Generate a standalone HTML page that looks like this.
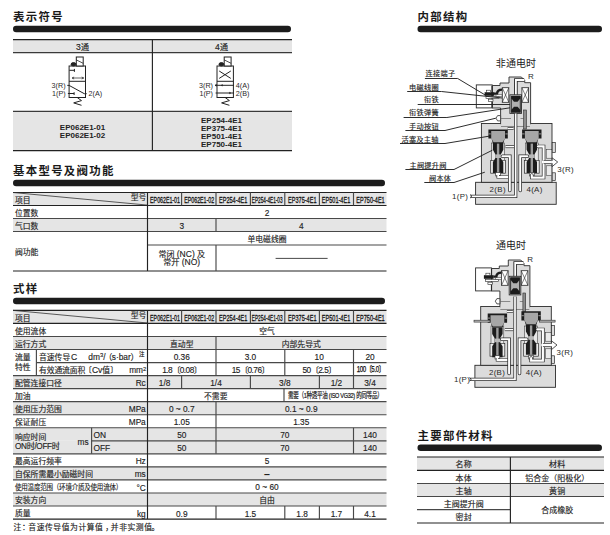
<!DOCTYPE html>
<html lang="zh-CN">
<head>
<meta charset="utf-8">
<title>EP系列 电磁阀 式样</title>
<style>
html,body{margin:0;padding:0;background:#fff;}
body{width:610px;height:535px;overflow:hidden;position:relative;font-family:"Liberation Sans","Noto Sans CJK SC",sans-serif;}
#page{position:absolute;left:0;top:0;width:610px;height:535px;overflow:hidden;background:#fff;}
#page svg{position:absolute;left:0;top:0;}
.t{position:absolute;white-space:nowrap;overflow:visible;font-family:"Liberation Sans","Noto Sans CJK SC",sans-serif;-webkit-text-stroke:0.14px #222;}
.b,.lt{-webkit-text-stroke:0;}
.t sup{font-size:70%;vertical-align:baseline;position:relative;top:-0.4em;line-height:0;}
.c{display:inline-block;white-space:nowrap;}
</style>
</head>
<body>
<div id="page">
<svg width="610" height="535" viewBox="0 0 610 535">
<rect x="13" y="25.8" width="278" height="6.4" rx="3.2" ry="3.2" fill="#1c1c1c"/>
<rect x="13" y="39" width="279" height="14" fill="#e5e5e5" />
<rect x="13" y="111.5" width="279" height="39" fill="#e5e5e5" />
<line x1="13" y1="39.7" x2="292" y2="39.7" stroke="#222" stroke-width="1.3"/>
<line x1="13" y1="52.7" x2="292" y2="52.7" stroke="#3a3a3a" stroke-width="1.3"/>
<line x1="13" y1="111.3" x2="292" y2="111.3" stroke="#3a3a3a" stroke-width="1.2"/>
<line x1="13" y1="150.7" x2="292" y2="150.7" stroke="#222" stroke-width="1.2"/>
<line x1="152.4" y1="39" x2="152.4" y2="151" stroke="#222" stroke-width="1.15"/>
<g fill="none" stroke="#222" stroke-width="1"><rect x="69.1" y="66" width="16.4" height="31.5"/><line x1="69.1" y1="81.3" x2="85.5" y2="81.3"/><rect x="76.3" y="57" width="6.9" height="9" fill="#fff"/><line x1="76.3" y1="59.9" x2="83.19999999999999" y2="63.3" stroke-width="0.8"/><ellipse cx="73.5" cy="64.3" rx="2.4" ry="1.7" fill="#222"/><path d="M69.3 70.3 h5.1 m0 -1.4 v3"/><path d="M72.1 78 h11.6 m-2 -1 l2 1 l-2 1 m-7.6 -2 l-2 1 l2 1" stroke-width="0.7"/><path d="M67.3 85.4 h1.8 L84.3 93.7 h2.4"/><path d="M67.89999999999999 93.5 h6.2 m0 -1.3 v2.8"/><path d="M77.19999999999999 97.5 L81.49999999999999 100.6 L73.69999999999999 102.9 L81.49999999999999 105.3"/></g>
<g fill="none" stroke="#222" stroke-width="1"><rect x="217" y="66" width="16.4" height="31.5"/><line x1="217" y1="81.3" x2="233.4" y2="81.3"/><rect x="224.2" y="57" width="6.9" height="9" fill="#fff"/><line x1="224.2" y1="59.9" x2="231.1" y2="63.3" stroke-width="0.8"/><ellipse cx="221.4" cy="64.3" rx="2.4" ry="1.7" fill="#222"/><path d="M219.2 71 L230.8 78.4 M230.8 71 L219.2 78.4"/><path d="M215 85.3 h19.0 M215.6 93 h18.4"/><path d="M215 85.3 l1.5 -1 v2 z M221 85.3 l1.5 -0.8 v1.6 z M231 93 l-1.6 -0.8 v1.6 z" fill="#222" stroke-width="0.4"/><path d="M225.1 97.5 L229.4 100.6 L221.6 102.9 L229.4 105.3"/></g>
<rect x="13" y="179.8" width="372" height="6.4" rx="3.2" ry="3.2" fill="#1c1c1c"/>
<rect x="13" y="192.5" width="373.5" height="13" fill="#e5e5e5" />
<line x1="13" y1="192.5" x2="386.5" y2="192.5" stroke="#222" stroke-width="1.15"/>
<line x1="13" y1="205.5" x2="386.5" y2="205.5" stroke="#222" stroke-width="1.15"/>
<line x1="13" y1="192.5" x2="147.5" y2="205.1" stroke="#333" stroke-width="0.8"/>
<line x1="181.6" y1="192.5" x2="181.6" y2="205.5" stroke="#484848" stroke-width="1.15"/>
<line x1="216" y1="192.5" x2="216" y2="205.5" stroke="#484848" stroke-width="1.15"/>
<line x1="250.4" y1="192.5" x2="250.4" y2="205.5" stroke="#484848" stroke-width="1.15"/>
<line x1="284.8" y1="192.5" x2="284.8" y2="205.5" stroke="#484848" stroke-width="1.15"/>
<line x1="319.4" y1="192.5" x2="319.4" y2="205.5" stroke="#484848" stroke-width="1.15"/>
<line x1="353.5" y1="192.5" x2="353.5" y2="205.5" stroke="#484848" stroke-width="1.15"/>
<rect x="13" y="218.5" width="373.5" height="13" fill="#e5e5e5" />
<line x1="13" y1="218.5" x2="386.5" y2="218.5" stroke="#484848" stroke-width="1.15"/>
<line x1="13" y1="231.5" x2="386.5" y2="231.5" stroke="#484848" stroke-width="1.15"/>
<line x1="147.5" y1="245" x2="386.5" y2="245" stroke="#484848" stroke-width="1.15"/>
<line x1="13" y1="271" x2="386.5" y2="271" stroke="#222" stroke-width="1.2"/>
<line x1="147.5" y1="192.5" x2="147.5" y2="271" stroke="#222" stroke-width="1.15"/>
<line x1="216" y1="218.5" x2="216" y2="231.5" stroke="#484848" stroke-width="1.15"/>
<line x1="216" y1="245" x2="216" y2="271" stroke="#484848" stroke-width="1.15"/>
<line x1="275.6" y1="258.4" x2="327.6" y2="258.4" stroke="#333" stroke-width="0.9"/>
<rect x="13" y="297.8" width="372" height="6.4" rx="3.2" ry="3.2" fill="#1c1c1c"/>
<rect x="13" y="310.4" width="373.5" height="13" fill="#e5e5e5" />
<line x1="13" y1="310.4" x2="386.5" y2="310.4" stroke="#222" stroke-width="1.15"/>
<line x1="13" y1="323.4" x2="386.5" y2="323.4" stroke="#222" stroke-width="1.15"/>
<line x1="13" y1="310.4" x2="147.5" y2="323.0" stroke="#333" stroke-width="0.8"/>
<line x1="181.6" y1="310.4" x2="181.6" y2="323.4" stroke="#484848" stroke-width="1.15"/>
<line x1="216" y1="310.4" x2="216" y2="323.4" stroke="#484848" stroke-width="1.15"/>
<line x1="250.4" y1="310.4" x2="250.4" y2="323.4" stroke="#484848" stroke-width="1.15"/>
<line x1="284.8" y1="310.4" x2="284.8" y2="323.4" stroke="#484848" stroke-width="1.15"/>
<line x1="319.4" y1="310.4" x2="319.4" y2="323.4" stroke="#484848" stroke-width="1.15"/>
<line x1="353.5" y1="310.4" x2="353.5" y2="323.4" stroke="#484848" stroke-width="1.15"/>
<rect x="13" y="336.48" width="373.5" height="13.04" fill="#e5e5e5" />
<rect x="13" y="375.6" width="373.5" height="13.04" fill="#e5e5e5" />
<rect x="13" y="401.68" width="373.5" height="13.04" fill="#e5e5e5" />
<rect x="13" y="427.76" width="373.5" height="13.04" fill="#e5e5e5" />
<rect x="13" y="440.8" width="373.5" height="13.04" fill="#e5e5e5" />
<rect x="13" y="466.88" width="373.5" height="13.04" fill="#e5e5e5" />
<rect x="13" y="492.96" width="373.5" height="13.04" fill="#e5e5e5" />
<line x1="13" y1="336.48" x2="386.5" y2="336.48" stroke="#484848" stroke-width="1.15"/>
<line x1="13" y1="349.52" x2="386.5" y2="349.52" stroke="#484848" stroke-width="1.15"/>
<line x1="36.4" y1="362.56" x2="386.5" y2="362.56" stroke="#484848" stroke-width="1.15"/>
<line x1="13" y1="375.6" x2="386.5" y2="375.6" stroke="#484848" stroke-width="1.15"/>
<line x1="13" y1="388.64" x2="386.5" y2="388.64" stroke="#484848" stroke-width="1.15"/>
<line x1="13" y1="401.68" x2="386.5" y2="401.68" stroke="#484848" stroke-width="1.15"/>
<line x1="13" y1="414.72" x2="386.5" y2="414.72" stroke="#484848" stroke-width="1.15"/>
<line x1="13" y1="427.76" x2="386.5" y2="427.76" stroke="#484848" stroke-width="1.15"/>
<line x1="91.6" y1="440.8" x2="386.5" y2="440.8" stroke="#484848" stroke-width="1.15"/>
<line x1="13" y1="453.84" x2="386.5" y2="453.84" stroke="#484848" stroke-width="1.15"/>
<line x1="13" y1="466.88" x2="386.5" y2="466.88" stroke="#484848" stroke-width="1.15"/>
<line x1="13" y1="479.92" x2="386.5" y2="479.92" stroke="#484848" stroke-width="1.15"/>
<line x1="13" y1="492.96" x2="386.5" y2="492.96" stroke="#484848" stroke-width="1.15"/>
<line x1="13" y1="506.0" x2="386.5" y2="506.0" stroke="#484848" stroke-width="1.15"/>
<line x1="13" y1="519.04" x2="386.5" y2="519.04" stroke="#222" stroke-width="1.2"/>
<line x1="147.5" y1="310.4" x2="147.5" y2="519.04" stroke="#222" stroke-width="1.15"/>
<line x1="36.4" y1="349.52" x2="36.4" y2="375.6" stroke="#484848" stroke-width="1.15"/>
<line x1="91.6" y1="427.76" x2="91.6" y2="453.84" stroke="#484848" stroke-width="1.15"/>
<line x1="216" y1="336.48" x2="216" y2="349.52" stroke="#484848" stroke-width="1.15"/>
<line x1="216" y1="349.52" x2="216" y2="362.56" stroke="#484848" stroke-width="1.15"/>
<line x1="284.8" y1="349.52" x2="284.8" y2="362.56" stroke="#484848" stroke-width="1.15"/>
<line x1="353.5" y1="349.52" x2="353.5" y2="362.56" stroke="#484848" stroke-width="1.15"/>
<line x1="216" y1="362.56" x2="216" y2="375.6" stroke="#484848" stroke-width="1.15"/>
<line x1="284.8" y1="362.56" x2="284.8" y2="375.6" stroke="#484848" stroke-width="1.15"/>
<line x1="353.5" y1="362.56" x2="353.5" y2="375.6" stroke="#484848" stroke-width="1.15"/>
<line x1="181.6" y1="375.6" x2="181.6" y2="388.64" stroke="#484848" stroke-width="1.15"/>
<line x1="250.4" y1="375.6" x2="250.4" y2="388.64" stroke="#484848" stroke-width="1.15"/>
<line x1="319.4" y1="375.6" x2="319.4" y2="388.64" stroke="#484848" stroke-width="1.15"/>
<line x1="353.5" y1="375.6" x2="353.5" y2="388.64" stroke="#484848" stroke-width="1.15"/>
<line x1="284" y1="388.64" x2="284" y2="401.68" stroke="#484848" stroke-width="1.15"/>
<line x1="216" y1="401.68" x2="216" y2="414.72" stroke="#484848" stroke-width="1.15"/>
<line x1="216" y1="414.72" x2="216" y2="427.76" stroke="#484848" stroke-width="1.15"/>
<line x1="216" y1="427.76" x2="216" y2="440.8" stroke="#484848" stroke-width="1.15"/>
<line x1="353.5" y1="427.76" x2="353.5" y2="440.8" stroke="#484848" stroke-width="1.15"/>
<line x1="216" y1="440.8" x2="216" y2="453.84" stroke="#484848" stroke-width="1.15"/>
<line x1="353.5" y1="440.8" x2="353.5" y2="453.84" stroke="#484848" stroke-width="1.15"/>
<line x1="216" y1="506.0" x2="216" y2="519.04" stroke="#484848" stroke-width="1.15"/>
<line x1="284.8" y1="506.0" x2="284.8" y2="519.04" stroke="#484848" stroke-width="1.15"/>
<line x1="319.4" y1="506.0" x2="319.4" y2="519.04" stroke="#484848" stroke-width="1.15"/>
<line x1="353.5" y1="506.0" x2="353.5" y2="519.04" stroke="#484848" stroke-width="1.15"/>
<rect x="417.5" y="25.8" width="184.5" height="6.4" rx="3.2" ry="3.2" fill="#1c1c1c"/>
<rect x="417.5" y="444.6" width="184.5" height="6.4" rx="3.2" ry="3.2" fill="#1c1c1c"/>
<rect x="417" y="457" width="187" height="13.300000000000011" fill="#e5e5e5" />
<rect x="417" y="483.5" width="187" height="13.0" fill="#e5e5e5" />
<line x1="417" y1="457" x2="604" y2="457" stroke="#222" stroke-width="1.15"/>
<line x1="417" y1="470.3" x2="604" y2="470.3" stroke="#222" stroke-width="1.15"/>
<line x1="417" y1="483.5" x2="604" y2="483.5" stroke="#484848" stroke-width="1.15"/>
<line x1="417" y1="496.5" x2="604" y2="496.5" stroke="#484848" stroke-width="1.15"/>
<line x1="417" y1="509.6" x2="510.4" y2="509.6" stroke="#484848" stroke-width="1.15"/>
<line x1="417" y1="523" x2="604" y2="523" stroke="#222" stroke-width="1.2"/>
<line x1="510.4" y1="457" x2="510.4" y2="523" stroke="#222" stroke-width="1.15"/>
<g id="valve-off"><rect x="476.3" y="84.9" width="15.9" height="23" fill="#fff" stroke="#2a2a2a" stroke-width="0.9"/><rect x="475.6" y="182.3" width="80.6" height="22" fill="#dcdcdc" stroke="#2a2a2a" stroke-width="0.9"/><rect x="481.4" y="123.5" width="70.6" height="58.8" fill="#d9d9d9" stroke="#2a2a2a" stroke-width="0.9"/><polygon points="492.2,85.5 500,85.5 500,83 509,83 509,77 521.4,77 524.7,80.4 524.7,82.7 530.6,82.7 530.6,123.9 500.6,123.9 500.6,108 492.2,108" fill="#dcdcdc" stroke="#2a2a2a" stroke-width="0.9"/><rect x="501.1" y="122.8" width="29" height="2.2" fill="#dcdcdc"/><rect x="552.2" y="142.6" width="3.1" height="10" fill="#dcdcdc" stroke="#2a2a2a" stroke-width="0.7"/><rect x="552.2" y="172.8" width="3.1" height="7.8" fill="#dcdcdc" stroke="#2a2a2a" stroke-width="0.7"/><path d="M500.6 118.5 H511 M520.5 118.5 H523.6 M501 126.5 H530" stroke="#888" stroke-width="1" fill="none"/><rect x="502.3" y="87.7" width="6.5" height="14.6" fill="#fff" stroke="#2a2a2a" stroke-width="0.8"/><path d="M502.3 87.7 L508.8 102.3 M508.8 87.7 L502.3 102.3" stroke="#2a2a2a" stroke-width="0.6"/><rect x="521.9" y="87.7" width="6.7" height="14.6" fill="#fff" stroke="#2a2a2a" stroke-width="0.8"/><path d="M521.9 87.7 L528.6 102.3 M528.6 87.7 L521.9 102.3" stroke="#2a2a2a" stroke-width="0.6"/><path d="M492.2 86 V107.5" stroke="#2a2a2a" stroke-width="1.2"/><rect x="484.6" y="92.2" width="9.6" height="3.6" fill="#1c1c1c"/><rect x="486.6" y="90.2" width="4" height="2.2" fill="#fff" stroke="#2a2a2a" stroke-width="0.6"/><rect x="486" y="96.4" width="13" height="2" fill="#fff" stroke="#2a2a2a" stroke-width="0.6"/><rect x="488.6" y="99.2" width="4.4" height="2.4" fill="#fff" stroke="#2a2a2a" stroke-width="0.6"/><path d="M494 93.6 H497 Q497.4 89.6 502 89.6" fill="none" stroke="#1c1c1c" stroke-width="2.4"/><rect x="496" y="94.8" width="6" height="1.6" fill="#fff" stroke="#2a2a2a" stroke-width="0.5"/><path d="M515.9 95 V80 H524.2" fill="none" stroke="#2a2a2a" stroke-width="3.6" stroke-linecap="butt" stroke-linejoin="miter"/><path d="M515.9 95 V80 H524.2" fill="none" stroke="#fff" stroke-width="1.8" stroke-linecap="butt" stroke-linejoin="miter"/><rect x="523.6" y="110" width="2.8" height="19" fill="#8c8c8c" stroke="#2a2a2a" stroke-width="0.6"/><path d="M500.6 115.6 H497.6 L496 118.2 L497.6 120.9 H500.6 Z" fill="#fff" stroke="#2a2a2a" stroke-width="0.8"/><path d="M507.6 128.6 H513.6" fill="none" stroke="#2a2a2a" stroke-width="2.8" stroke-linecap="butt" stroke-linejoin="miter"/><path d="M507.6 128.6 H513.6" fill="none" stroke="#fff" stroke-width="1.4" stroke-linecap="butt" stroke-linejoin="miter"/><path d="M505.5 146.6 H514" fill="none" stroke="#2a2a2a" stroke-width="3.0" stroke-linecap="butt" stroke-linejoin="miter"/><path d="M505.5 146.6 H514" fill="none" stroke="#fff" stroke-width="1.6" stroke-linecap="butt" stroke-linejoin="miter"/><rect x="490.70000000000005" y="160.6" width="14.8" height="12.6" fill="#ececec" stroke="#2a2a2a" stroke-width="0.7"/><rect x="491.70000000000005" y="143" width="12.8" height="17.6" fill="#e6e6e6" stroke="#2a2a2a" stroke-width="0.5"/><g transform="translate(0,0)"><polygon points="488.40000000000003,129.4 507.8,129.4 507.8,138.6 504.70000000000005,138.6 503.40000000000003,143 492.8,143 491.5,138.6 488.40000000000003,138.6" fill="#1c1c1c"/><rect x="488.40000000000003" y="133.4" width="2.4" height="1" fill="#999"/><rect x="505.40000000000003" y="133.4" width="2.4" height="1" fill="#999"/><polygon points="491.20000000000005,131 505.0,131 505.0,138.2 502.70000000000005,142.2 493.5,142.2 491.20000000000005,138.2" fill="#a6a6a6"/><polygon points="492.90000000000003,143 503.3,143 503.3,149.8 501.0,153.9 501.0,158.5 503.3,162 503.3,173 492.90000000000003,173 492.90000000000003,162 495.20000000000005,158.5 495.20000000000005,153.9 492.90000000000003,149.8" fill="#1c1c1c"/><rect x="496.90000000000003" y="143.6" width="2.4" height="29.4" fill="#9c9c9c"/><rect x="495.20000000000005" y="154.4" width="5.8" height="3.6" fill="#b8b8b8"/></g><rect x="495.70000000000005" y="172.6" width="4.8" height="3.4" fill="#fff" stroke="#2a2a2a" stroke-width="0.6"/><rect x="524.4" y="160.6" width="14.8" height="12.6" fill="#ececec" stroke="#2a2a2a" stroke-width="0.7"/><rect x="525.4" y="143" width="12.8" height="17.6" fill="#e6e6e6" stroke="#2a2a2a" stroke-width="0.5"/><g transform="translate(0,0)"><polygon points="522.0999999999999,129.4 541.5,129.4 541.5,138.6 538.4,138.6 537.0999999999999,143 526.5,143 525.1999999999999,138.6 522.0999999999999,138.6" fill="#1c1c1c"/><rect x="522.0999999999999" y="133.4" width="2.4" height="1" fill="#999"/><rect x="539.0999999999999" y="133.4" width="2.4" height="1" fill="#999"/><polygon points="524.9,131 538.6999999999999,131 538.6999999999999,138.2 536.4,142.2 527.1999999999999,142.2 524.9,138.2" fill="#a6a6a6"/><polygon points="526.5999999999999,143 537.0,143 537.0,149.8 534.6999999999999,153.9 534.6999999999999,158.5 537.0,162 537.0,173 526.5999999999999,173 526.5999999999999,162 528.9,158.5 528.9,153.9 526.5999999999999,149.8" fill="#1c1c1c"/><rect x="530.5999999999999" y="143.6" width="2.4" height="29.4" fill="#9c9c9c"/><rect x="528.9" y="154.4" width="5.8" height="3.6" fill="#b8b8b8"/></g><rect x="529.4" y="172.6" width="4.8" height="3.4" fill="#fff" stroke="#2a2a2a" stroke-width="0.6"/><path d="M498.1 175 V177 H508.6" fill="none" stroke="#2a2a2a" stroke-width="3.2" stroke-linecap="butt" stroke-linejoin="miter"/><path d="M498.1 175 V177 H508.6" fill="none" stroke="#fff" stroke-width="1.8" stroke-linecap="butt" stroke-linejoin="miter"/><path d="M531.8 175 V177.6 H543.6 V146.4 H538" fill="none" stroke="#2a2a2a" stroke-width="3.5" stroke-linecap="round" stroke-linejoin="miter"/><path d="M531.8 175 V177.6 H543.6 V146.4 H538" fill="none" stroke="#fff" stroke-width="2.1" stroke-linecap="round" stroke-linejoin="miter"/><rect x="546.2" y="149.6" width="5.6" height="8.6" fill="#ebebeb" stroke="#2a2a2a" stroke-width="0.5"/><rect x="546.2" y="165.8" width="5.6" height="9.8" fill="#ebebeb" stroke="#2a2a2a" stroke-width="0.5"/><path d="M543.6 162 H553" fill="none" stroke="#2a2a2a" stroke-width="4.0" stroke-linecap="butt" stroke-linejoin="miter"/><path d="M543.6 162 H553" fill="none" stroke="#fff" stroke-width="2.6" stroke-linecap="butt" stroke-linejoin="miter"/><path d="M552.2 157.9 L557.7 162 L552.2 166.6 Z" fill="#fff" stroke="#2a2a2a" stroke-width="0.8" stroke-linejoin="miter"/><path d="M542.9 160.8 V163.2 M552.2 160.8 V163.2" stroke="#fff" stroke-width="1.8"/><path d="M502.4 156.2 H509.8 V190.6" fill="none" stroke="#2a2a2a" stroke-width="3.5" stroke-linecap="round" stroke-linejoin="miter"/><path d="M502.4 156.2 H509.8 V190.6" fill="none" stroke="#fff" stroke-width="2.0" stroke-linecap="round" stroke-linejoin="miter"/><path d="M527.4 156.2 H520.2 V190.6" fill="none" stroke="#2a2a2a" stroke-width="3.5" stroke-linecap="round" stroke-linejoin="miter"/><path d="M527.4 156.2 H520.2 V190.6" fill="none" stroke="#fff" stroke-width="2.0" stroke-linecap="round" stroke-linejoin="miter"/><g transform="translate(0,0)"><rect x="509.9" y="94.8" width="11.6" height="18.6" fill="#e4e4e4" stroke="#2a2a2a" stroke-width="0.9"/><rect x="511.4" y="96" width="8.8" height="16.4" fill="#b0b0b0"/><polygon points="511.2,95.8 520.4,95.8 520.4,98.2 517.6,101.8 514,101.8 511.2,98.2" fill="#1c1c1c"/><polygon points="511.2,112.8 520.4,112.8 520.4,110 517.6,106.8 514,106.8 511.2,110" fill="#1c1c1c"/><path d="M511.3 96 V112.6 M520.3 96 V112.6" stroke="#1c1c1c" stroke-width="0.9"/></g><path d="M515.7 113.6 V196.3 H470.5" fill="none" stroke="#2a2a2a" stroke-width="3.2" stroke-linecap="butt" stroke-linejoin="miter"/><path d="M515.7 113.6 V196.3 H470.5" fill="none" stroke="#fff" stroke-width="1.7" stroke-linecap="butt" stroke-linejoin="miter"/><path d="M470.2 194.6 L472 196.3 L470.2 198" fill="none" stroke="#2a2a2a" stroke-width="0.9"/></g>
<g id="valve-on" transform="translate(-0.7,183)"><rect x="476.3" y="84.9" width="15.9" height="23" fill="#fff" stroke="#2a2a2a" stroke-width="0.9"/><rect x="475.6" y="182.3" width="80.6" height="22" fill="#dcdcdc" stroke="#2a2a2a" stroke-width="0.9"/><rect x="481.4" y="123.5" width="70.6" height="58.8" fill="#d9d9d9" stroke="#2a2a2a" stroke-width="0.9"/><polygon points="492.2,85.5 500,85.5 500,83 509,83 509,77 521.4,77 524.7,80.4 524.7,82.7 530.6,82.7 530.6,123.9 500.6,123.9 500.6,108 492.2,108" fill="#dcdcdc" stroke="#2a2a2a" stroke-width="0.9"/><rect x="501.1" y="122.8" width="29" height="2.2" fill="#dcdcdc"/><rect x="552.2" y="142.6" width="3.1" height="10" fill="#dcdcdc" stroke="#2a2a2a" stroke-width="0.7"/><rect x="552.2" y="172.8" width="3.1" height="7.8" fill="#dcdcdc" stroke="#2a2a2a" stroke-width="0.7"/><path d="M500.6 118.5 H511 M520.5 118.5 H523.6 M501 126.5 H530" stroke="#888" stroke-width="1" fill="none"/><rect x="502.3" y="87.7" width="6.5" height="14.6" fill="#fff" stroke="#2a2a2a" stroke-width="0.8"/><path d="M502.3 87.7 L508.8 102.3 M508.8 87.7 L502.3 102.3" stroke="#2a2a2a" stroke-width="0.6"/><rect x="521.9" y="87.7" width="6.7" height="14.6" fill="#fff" stroke="#2a2a2a" stroke-width="0.8"/><path d="M521.9 87.7 L528.6 102.3 M528.6 87.7 L521.9 102.3" stroke="#2a2a2a" stroke-width="0.6"/><path d="M492.2 86 V107.5" stroke="#2a2a2a" stroke-width="1.2"/><rect x="484.6" y="92.2" width="9.6" height="3.6" fill="#1c1c1c"/><rect x="486.6" y="90.2" width="4" height="2.2" fill="#fff" stroke="#2a2a2a" stroke-width="0.6"/><rect x="486" y="96.4" width="13" height="2" fill="#fff" stroke="#2a2a2a" stroke-width="0.6"/><rect x="488.6" y="99.2" width="4.4" height="2.4" fill="#fff" stroke="#2a2a2a" stroke-width="0.6"/><path d="M494 93.6 H497 Q497.4 89.6 502 89.6" fill="none" stroke="#1c1c1c" stroke-width="2.4"/><rect x="496" y="94.8" width="6" height="1.6" fill="#fff" stroke="#2a2a2a" stroke-width="0.5"/><path d="M515.9 95 V80 H524.2" fill="none" stroke="#2a2a2a" stroke-width="3.6" stroke-linecap="butt" stroke-linejoin="miter"/><path d="M515.9 95 V80 H524.2" fill="none" stroke="#fff" stroke-width="1.8" stroke-linecap="butt" stroke-linejoin="miter"/><rect x="523.6" y="110" width="2.8" height="19" fill="#8c8c8c" stroke="#2a2a2a" stroke-width="0.6"/><path d="M500.6 115.6 H497.6 L496 118.2 L497.6 120.9 H500.6 Z" fill="#fff" stroke="#2a2a2a" stroke-width="0.8"/><path d="M507.6 128.6 H513.6" fill="none" stroke="#2a2a2a" stroke-width="2.8" stroke-linecap="butt" stroke-linejoin="miter"/><path d="M507.6 128.6 H513.6" fill="none" stroke="#fff" stroke-width="1.4" stroke-linecap="butt" stroke-linejoin="miter"/><path d="M505.5 146.6 H514" fill="none" stroke="#2a2a2a" stroke-width="3.0" stroke-linecap="butt" stroke-linejoin="miter"/><path d="M505.5 146.6 H514" fill="none" stroke="#fff" stroke-width="1.6" stroke-linecap="butt" stroke-linejoin="miter"/><rect x="490.70000000000005" y="160.6" width="14.8" height="12.6" fill="#ececec" stroke="#2a2a2a" stroke-width="0.7"/><rect x="491.70000000000005" y="143" width="12.8" height="17.6" fill="#e6e6e6" stroke="#2a2a2a" stroke-width="0.5"/><g transform="translate(0,1.2)"><polygon points="488.40000000000003,129.4 507.8,129.4 507.8,138.6 504.70000000000005,138.6 503.40000000000003,143 492.8,143 491.5,138.6 488.40000000000003,138.6" fill="#1c1c1c"/><rect x="488.40000000000003" y="133.4" width="2.4" height="1" fill="#999"/><rect x="505.40000000000003" y="133.4" width="2.4" height="1" fill="#999"/><polygon points="491.20000000000005,131 505.0,131 505.0,138.2 502.70000000000005,142.2 493.5,142.2 491.20000000000005,138.2" fill="#a6a6a6"/><polygon points="492.90000000000003,143 503.3,143 503.3,149.8 501.0,153.9 501.0,158.5 503.3,162 503.3,173 492.90000000000003,173 492.90000000000003,162 495.20000000000005,158.5 495.20000000000005,153.9 492.90000000000003,149.8" fill="#1c1c1c"/><rect x="496.90000000000003" y="143.6" width="2.4" height="29.4" fill="#9c9c9c"/><rect x="495.20000000000005" y="154.4" width="5.8" height="3.6" fill="#b8b8b8"/></g><rect x="495.70000000000005" y="172.6" width="4.8" height="3.4" fill="#fff" stroke="#2a2a2a" stroke-width="0.6"/><rect x="524.4" y="160.6" width="14.8" height="12.6" fill="#ececec" stroke="#2a2a2a" stroke-width="0.7"/><rect x="525.4" y="143" width="12.8" height="17.6" fill="#e6e6e6" stroke="#2a2a2a" stroke-width="0.5"/><g transform="translate(0,-1.2)"><polygon points="522.0999999999999,129.4 541.5,129.4 541.5,138.6 538.4,138.6 537.0999999999999,143 526.5,143 525.1999999999999,138.6 522.0999999999999,138.6" fill="#1c1c1c"/><rect x="522.0999999999999" y="133.4" width="2.4" height="1" fill="#999"/><rect x="539.0999999999999" y="133.4" width="2.4" height="1" fill="#999"/><polygon points="524.9,131 538.6999999999999,131 538.6999999999999,138.2 536.4,142.2 527.1999999999999,142.2 524.9,138.2" fill="#a6a6a6"/><polygon points="526.5999999999999,143 537.0,143 537.0,149.8 534.6999999999999,153.9 534.6999999999999,158.5 537.0,162 537.0,173 526.5999999999999,173 526.5999999999999,162 528.9,158.5 528.9,153.9 526.5999999999999,149.8" fill="#1c1c1c"/><rect x="530.5999999999999" y="143.6" width="2.4" height="29.4" fill="#9c9c9c"/><rect x="528.9" y="154.4" width="5.8" height="3.6" fill="#b8b8b8"/></g><rect x="529.4" y="172.6" width="4.8" height="3.4" fill="#fff" stroke="#2a2a2a" stroke-width="0.6"/><rect x="474.7" y="137.2" width="16" height="1.9" fill="#bbb" stroke="#2a2a2a" stroke-width="0.6"/><rect x="540.2" y="137.2" width="15.6" height="1.9" fill="#bbb" stroke="#2a2a2a" stroke-width="0.6"/><path d="M498.1 175 V177 H508.6" fill="none" stroke="#2a2a2a" stroke-width="3.2" stroke-linecap="butt" stroke-linejoin="miter"/><path d="M498.1 175 V177 H508.6" fill="none" stroke="#fff" stroke-width="1.8" stroke-linecap="butt" stroke-linejoin="miter"/><path d="M531.8 175 V177.6 H543.6 V146.4 H538" fill="none" stroke="#2a2a2a" stroke-width="3.5" stroke-linecap="round" stroke-linejoin="miter"/><path d="M531.8 175 V177.6 H543.6 V146.4 H538" fill="none" stroke="#fff" stroke-width="2.1" stroke-linecap="round" stroke-linejoin="miter"/><rect x="546.2" y="149.6" width="5.6" height="8.6" fill="#ebebeb" stroke="#2a2a2a" stroke-width="0.5"/><rect x="546.2" y="165.8" width="5.6" height="9.8" fill="#ebebeb" stroke="#2a2a2a" stroke-width="0.5"/><path d="M543.6 162 H553" fill="none" stroke="#2a2a2a" stroke-width="4.0" stroke-linecap="butt" stroke-linejoin="miter"/><path d="M543.6 162 H553" fill="none" stroke="#fff" stroke-width="2.6" stroke-linecap="butt" stroke-linejoin="miter"/><path d="M552.2 157.9 L557.7 162 L552.2 166.6 Z" fill="#fff" stroke="#2a2a2a" stroke-width="0.8" stroke-linejoin="miter"/><path d="M542.9 160.8 V163.2 M552.2 160.8 V163.2" stroke="#fff" stroke-width="1.8"/><path d="M502.4 156.2 H509.8 V190.6" fill="none" stroke="#2a2a2a" stroke-width="3.5" stroke-linecap="round" stroke-linejoin="miter"/><path d="M502.4 156.2 H509.8 V190.6" fill="none" stroke="#fff" stroke-width="2.0" stroke-linecap="round" stroke-linejoin="miter"/><path d="M527.4 156.2 H520.2 V190.6" fill="none" stroke="#2a2a2a" stroke-width="3.5" stroke-linecap="round" stroke-linejoin="miter"/><path d="M527.4 156.2 H520.2 V190.6" fill="none" stroke="#fff" stroke-width="2.0" stroke-linecap="round" stroke-linejoin="miter"/><g transform="translate(0,-1.5)"><rect x="509.9" y="94.8" width="11.6" height="18.6" fill="#e4e4e4" stroke="#2a2a2a" stroke-width="0.9"/><rect x="511.4" y="96" width="8.8" height="16.4" fill="#b0b0b0"/><polygon points="511.2,95.8 520.4,95.8 520.4,98.2 517.6,101.8 514,101.8 511.2,98.2" fill="#1c1c1c"/><polygon points="511.2,112.8 520.4,112.8 520.4,110 517.6,106.8 514,106.8 511.2,110" fill="#1c1c1c"/><path d="M511.3 96 V112.6 M520.3 96 V112.6" stroke="#1c1c1c" stroke-width="0.9"/></g><path d="M515.7 113.6 V196.3 H470.5" fill="none" stroke="#2a2a2a" stroke-width="3.2" stroke-linecap="butt" stroke-linejoin="miter"/><path d="M515.7 113.6 V196.3 H470.5" fill="none" stroke="#fff" stroke-width="1.7" stroke-linecap="butt" stroke-linejoin="miter"/><path d="M470.2 194.6 L472 196.3 L470.2 198" fill="none" stroke="#2a2a2a" stroke-width="0.9"/></g>
<g fill="none" stroke="#222" stroke-width="0.95"><path d="M424.9 78.5 H457.7 L486.2 95.6"/><path d="M407.2 91.5 H441.5 L502 98"/><path d="M417.7 104.5 H510"/><path d="M403.6 117.5 H446.9 L510 107.8"/><path d="M405.4 130.5 H445 L495.8 118.2"/><path d="M400 143.5 H445 L489 136.2"/><path d="M405.4 169.5 H454 L492.4 150.2"/><path d="M424.3 182.5 H454 L484.8 172.2"/></g>
</svg>
<div class="t b" style="left:13.1px;top:9.5px;width:250px;height:14px;line-height:14px;font-size:11.4px;text-align:left;color:#1a1a1a;font-weight:bold;letter-spacing:1.3px;"><span class="c" style="width:49.20px">表示符号</span></div>
<div class="t" style="left:13px;top:40.8px;width:139px;height:13px;line-height:13px;font-size:8px;text-align:center;color:#222;"><span style="font-size:8.6px">3</span><span class="c" style="width:8.00px">通</span></div>
<div class="t" style="left:152px;top:40.8px;width:139px;height:13px;line-height:13px;font-size:8px;text-align:center;color:#222;"><span style="font-size:8.6px">4</span><span class="c" style="width:8.00px">通</span></div>
<div class="t b" style="left:13px;top:124px;width:139px;height:8px;line-height:8px;font-size:8px;text-align:center;color:#222;font-weight:bold;">EP062E1-01</div>
<div class="t b" style="left:13px;top:132px;width:139px;height:8px;line-height:8px;font-size:8px;text-align:center;color:#222;font-weight:bold;">EP062E1-02</div>
<div class="t b" style="left:152px;top:116.5px;width:139px;height:8px;line-height:8px;font-size:8px;text-align:center;color:#222;font-weight:bold;">EP254-4E1</div>
<div class="t b" style="left:152px;top:124.5px;width:139px;height:8px;line-height:8px;font-size:8px;text-align:center;color:#222;font-weight:bold;">EP375-4E1</div>
<div class="t b" style="left:152px;top:132.5px;width:139px;height:8px;line-height:8px;font-size:8px;text-align:center;color:#222;font-weight:bold;">EP501-4E1</div>
<div class="t b" style="left:152px;top:140.5px;width:139px;height:8px;line-height:8px;font-size:8px;text-align:center;color:#222;font-weight:bold;">EP750-4E1</div>
<div class="t lt" style="left:40px;top:82.3px;width:25.6px;height:7px;line-height:7px;font-size:7.2px;text-align:right;color:#2a2a2a;">3(R)</div>
<div class="t lt" style="left:40px;top:90.2px;width:25.6px;height:7px;line-height:7px;font-size:7.2px;text-align:right;color:#2a2a2a;">1(P)</div>
<div class="t lt" style="left:88.6px;top:90.2px;width:30px;height:7px;line-height:7px;font-size:7.2px;text-align:left;color:#2a2a2a;">2(A)</div>
<div class="t lt" style="left:187px;top:82.3px;width:26px;height:7px;line-height:7px;font-size:7.2px;text-align:right;color:#2a2a2a;">3(R)</div>
<div class="t lt" style="left:187px;top:90.2px;width:26px;height:7px;line-height:7px;font-size:7.2px;text-align:right;color:#2a2a2a;">1(P)</div>
<div class="t lt" style="left:235.8px;top:82.3px;width:30px;height:7px;line-height:7px;font-size:7.2px;text-align:left;color:#2a2a2a;">4(A)</div>
<div class="t lt" style="left:235.8px;top:90.2px;width:30px;height:7px;line-height:7px;font-size:7.2px;text-align:left;color:#2a2a2a;">2(B)</div>
<div class="t b" style="left:13.1px;top:163.5px;width:250px;height:14px;line-height:14px;font-size:11.4px;text-align:left;color:#1a1a1a;font-weight:bold;letter-spacing:1.3px;"><span class="c" style="width:98.41px">基本型号及阀功能</span></div>
<div class="t" style="left:15px;top:196.1px;width:40px;height:9.4px;line-height:9.4px;font-size:7.8px;text-align:left;color:#222;"><span class="c" style="width:16.00px">项目</span></div>
<div class="t" style="left:100px;top:192.9px;width:46.4px;height:9.4px;line-height:9.4px;font-size:7.8px;text-align:right;color:#222;"><span class="c" style="width:16.00px">型号</span></div>
<div class="t" style="left:127.5px;top:194.2px;width:74.1px;height:12px;line-height:12px;font-size:9.2px;text-align:center;color:#111;transform:scaleX(0.573);transform-origin:50% 50%;-webkit-text-stroke:0.3px #111;">EP062E1-01</div>
<div class="t" style="left:161.6px;top:194.2px;width:74.4px;height:12px;line-height:12px;font-size:9.2px;text-align:center;color:#111;transform:scaleX(0.573);transform-origin:50% 50%;-webkit-text-stroke:0.3px #111;">EP062E1-02</div>
<div class="t" style="left:196px;top:194.2px;width:74.4px;height:12px;line-height:12px;font-size:9.2px;text-align:center;color:#111;transform:scaleX(0.604);transform-origin:50% 50%;-webkit-text-stroke:0.3px #111;">EP254-4E1</div>
<div class="t" style="left:230.4px;top:194.2px;width:74.4px;height:12px;line-height:12px;font-size:9.2px;text-align:center;color:#111;transform:scaleX(0.51);transform-origin:50% 50%;-webkit-text-stroke:0.3px #111;">EP254-4E1-03</div>
<div class="t" style="left:264.8px;top:194.2px;width:74.59999999999997px;height:12px;line-height:12px;font-size:9.2px;text-align:center;color:#111;transform:scaleX(0.604);transform-origin:50% 50%;-webkit-text-stroke:0.3px #111;">EP375-4E1</div>
<div class="t" style="left:299.4px;top:194.2px;width:74.10000000000002px;height:12px;line-height:12px;font-size:9.2px;text-align:center;color:#111;transform:scaleX(0.604);transform-origin:50% 50%;-webkit-text-stroke:0.3px #111;">EP501-4E1</div>
<div class="t" style="left:333.5px;top:194.2px;width:73.0px;height:12px;line-height:12px;font-size:9.2px;text-align:center;color:#111;transform:scaleX(0.604);transform-origin:50% 50%;-webkit-text-stroke:0.3px #111;">EP750-4E1</div>
<div class="t" style="left:15px;top:206.7px;width:100px;height:13px;line-height:13px;font-size:7.8px;text-align:left;color:#222;"><span class="c" style="width:24.00px">位置数</span></div>
<div class="t" style="left:15px;top:219.7px;width:100px;height:13px;line-height:13px;font-size:7.8px;text-align:left;color:#222;"><span class="c" style="width:24.00px">气口数</span></div>
<div class="t" style="left:15px;top:246px;width:100px;height:13px;line-height:13px;font-size:7.8px;text-align:left;color:#222;"><span class="c" style="width:24.00px">阀功能</span></div>
<div class="t" style="left:147.5px;top:206.8px;width:239.0px;height:13px;line-height:13px;font-size:8.3px;text-align:center;color:#222;">2</div>
<div class="t" style="left:147.5px;top:219.8px;width:68.5px;height:13px;line-height:13px;font-size:8.3px;text-align:center;color:#222;">3</div>
<div class="t" style="left:216px;top:219.8px;width:170.5px;height:13px;line-height:13px;font-size:8.3px;text-align:center;color:#222;">4</div>
<div class="t" style="left:147.5px;top:233.1px;width:239.0px;height:13px;line-height:13px;font-size:7.8px;text-align:center;color:#222;"><span class="c" style="width:40.00px">单电磁线圈</span></div>
<div class="t" style="left:137.5px;top:249.6px;width:88.5px;height:9px;line-height:9px;font-size:8px;text-align:center;color:#222;"><span class="c" style="width:16.00px">常闭</span><span style="font-size:8.5px"> (NC) </span><span class="c" style="width:8.00px">及</span></div>
<div class="t" style="left:137.5px;top:258.4px;width:88.5px;height:9px;line-height:9px;font-size:8px;text-align:center;color:#222;"><span class="c" style="width:16.00px">常开</span><span style="font-size:8.5px"> (NO)</span></div>
<div class="t b" style="left:13.1px;top:281.9px;width:250px;height:14px;line-height:14px;font-size:11.4px;text-align:left;color:#1a1a1a;font-weight:bold;letter-spacing:1.3px;"><span class="c" style="width:24.61px">式样</span></div>
<div class="t" style="left:15px;top:314.0px;width:40px;height:9.4px;line-height:9.4px;font-size:7.8px;text-align:left;color:#222;"><span class="c" style="width:16.00px">项目</span></div>
<div class="t" style="left:100px;top:310.79999999999995px;width:46.4px;height:9.4px;line-height:9.4px;font-size:7.8px;text-align:right;color:#222;"><span class="c" style="width:16.00px">型号</span></div>
<div class="t" style="left:127.5px;top:312.09999999999997px;width:74.1px;height:12px;line-height:12px;font-size:9.2px;text-align:center;color:#111;transform:scaleX(0.573);transform-origin:50% 50%;-webkit-text-stroke:0.3px #111;">EP062E1-01</div>
<div class="t" style="left:161.6px;top:312.09999999999997px;width:74.4px;height:12px;line-height:12px;font-size:9.2px;text-align:center;color:#111;transform:scaleX(0.573);transform-origin:50% 50%;-webkit-text-stroke:0.3px #111;">EP062E1-02</div>
<div class="t" style="left:196px;top:312.09999999999997px;width:74.4px;height:12px;line-height:12px;font-size:9.2px;text-align:center;color:#111;transform:scaleX(0.604);transform-origin:50% 50%;-webkit-text-stroke:0.3px #111;">EP254-4E1</div>
<div class="t" style="left:230.4px;top:312.09999999999997px;width:74.4px;height:12px;line-height:12px;font-size:9.2px;text-align:center;color:#111;transform:scaleX(0.51);transform-origin:50% 50%;-webkit-text-stroke:0.3px #111;">EP254-4E1-03</div>
<div class="t" style="left:264.8px;top:312.09999999999997px;width:74.59999999999997px;height:12px;line-height:12px;font-size:9.2px;text-align:center;color:#111;transform:scaleX(0.604);transform-origin:50% 50%;-webkit-text-stroke:0.3px #111;">EP375-4E1</div>
<div class="t" style="left:299.4px;top:312.09999999999997px;width:74.10000000000002px;height:12px;line-height:12px;font-size:9.2px;text-align:center;color:#111;transform:scaleX(0.604);transform-origin:50% 50%;-webkit-text-stroke:0.3px #111;">EP501-4E1</div>
<div class="t" style="left:333.5px;top:312.09999999999997px;width:73.0px;height:12px;line-height:12px;font-size:9.2px;text-align:center;color:#111;transform:scaleX(0.604);transform-origin:50% 50%;-webkit-text-stroke:0.3px #111;">EP750-4E1</div>
<div class="t" style="left:15px;top:325.74px;width:130px;height:12.4px;line-height:12.4px;font-size:7.8px;text-align:left;color:#222;"><span class="c" style="width:32.00px">使用流体</span></div>
<div class="t" style="left:15px;top:338.78000000000003px;width:130px;height:12.4px;line-height:12.4px;font-size:7.8px;text-align:left;color:#222;"><span class="c" style="width:32.00px">运行方式</span></div>
<div class="t" style="left:15px;top:377.90000000000003px;width:130px;height:12.4px;line-height:12.4px;font-size:7.8px;text-align:left;color:#222;"><span class="c" style="width:48.00px">配管连接口径</span></div>
<div class="t" style="left:15px;top:390.94px;width:130px;height:12.4px;line-height:12.4px;font-size:7.8px;text-align:left;color:#222;"><span class="c" style="width:16.00px">加油</span></div>
<div class="t" style="left:15px;top:403.98px;width:130px;height:12.4px;line-height:12.4px;font-size:7.8px;text-align:left;color:#222;"><span class="c" style="width:48.00px">使用压力范围</span></div>
<div class="t" style="left:15px;top:417.02000000000004px;width:130px;height:12.4px;line-height:12.4px;font-size:7.8px;text-align:left;color:#222;"><span class="c" style="width:32.00px">保证耐压</span></div>
<div class="t" style="left:15px;top:456.14px;width:130px;height:12.4px;line-height:12.4px;font-size:7.8px;text-align:left;color:#222;"><span class="c" style="width:48.00px">最高运行频率</span></div>
<div class="t" style="left:15px;top:469.18px;width:130px;height:12.4px;line-height:12.4px;font-size:7.8px;text-align:left;color:#222;"><span class="c" style="width:80.00px">自保所需最小励磁时间</span></div>
<div class="t" style="left:15px;top:495.26px;width:130px;height:12.4px;line-height:12.4px;font-size:7.8px;text-align:left;color:#222;"><span class="c" style="width:32.00px">安装方向</span></div>
<div class="t" style="left:15px;top:508.3px;width:130px;height:12.4px;line-height:12.4px;font-size:7.8px;text-align:left;color:#222;"><span class="c" style="width:16.00px">质量</span></div>
<div class="t" style="left:15px;top:482.22px;width:140px;height:12.4px;line-height:12.4px;font-size:7.8px;text-align:left;color:#222;transform:scaleX(0.84);transform-origin:0 50%;letter-spacing:-0.3px;white-space:nowrap;"><span class="c" style="width:130.91px">使用温度范围（环境介质及使用流体）</span></div>
<div class="t" style="left:100px;top:377.20000000000005px;width:45.6px;height:12.4px;line-height:12.4px;font-size:8.3px;text-align:right;color:#222;letter-spacing:-0.1px;">Rc</div>
<div class="t" style="left:100px;top:403.28000000000003px;width:45.6px;height:12.4px;line-height:12.4px;font-size:8.3px;text-align:right;color:#222;letter-spacing:-0.1px;">MPa</div>
<div class="t" style="left:100px;top:416.32000000000005px;width:45.6px;height:12.4px;line-height:12.4px;font-size:8.3px;text-align:right;color:#222;letter-spacing:-0.1px;">MPa</div>
<div class="t" style="left:100px;top:455.44px;width:45.6px;height:12.4px;line-height:12.4px;font-size:8.3px;text-align:right;color:#222;letter-spacing:-0.1px;">Hz</div>
<div class="t" style="left:100px;top:468.48px;width:45.6px;height:12.4px;line-height:12.4px;font-size:8.3px;text-align:right;color:#222;letter-spacing:-0.1px;">ms</div>
<div class="t" style="left:100px;top:481.52000000000004px;width:45.6px;height:12.4px;line-height:12.4px;font-size:8.3px;text-align:right;color:#222;letter-spacing:-0.1px;">°C</div>
<div class="t" style="left:100px;top:507.6px;width:45.6px;height:12.4px;line-height:12.4px;font-size:8.3px;text-align:right;color:#222;letter-spacing:-0.1px;">kg</div>
<div class="t" style="left:15px;top:353.12px;width:22px;height:9px;line-height:9px;font-size:7.8px;text-align:left;color:#222;"><span class="c" style="width:16.00px">流量</span></div>
<div class="t" style="left:15px;top:362.91999999999996px;width:22px;height:9px;line-height:9px;font-size:7.8px;text-align:left;color:#222;"><span class="c" style="width:16.00px">特性</span></div>
<div class="t" style="left:39px;top:351.32px;width:60px;height:12.4px;line-height:12.4px;font-size:7.8px;text-align:left;color:#222;"><span class="c" style="width:32.00px">音速传导</span><span style="font-size:8.6px">C</span></div>
<div class="t" style="left:88.3px;top:350.71999999999997px;width:60px;height:12.4px;line-height:12.4px;font-size:8.4px;text-align:left;color:#222;white-space:nowrap;">dm<sup>3</sup>/<span style="margin:0 -0.3px 0 -1.5px"><span class="c" style="width:8.00px">（</span></span>s·bar<span style="margin:0 -2px 0 -0.3px"><span class="c" style="width:8.00px">）</span></span><span style="font-size:5.5px;line-height:0;position:relative;top:-3.4px;margin-left:2.5px"><span class="c" style="width:6.00px">注</span></span></div>
<div class="t" style="left:39px;top:364.36px;width:100px;height:12.4px;line-height:12.4px;font-size:7.8px;text-align:left;color:#222;letter-spacing:-0.1px;white-space:nowrap;"><span class="c" style="width:47.41px">有效通流面积</span><span style="margin:0 0 0 -2.4px"><span class="c" style="width:7.91px">〔</span></span><span style="font-size:8.6px">Cv</span><span class="c" style="width:7.91px">值</span><span style="margin-right:-3px"><span class="c" style="width:7.91px">〕</span></span></div>
<div class="t" style="left:100px;top:363.96px;width:46.2px;height:12.4px;line-height:12.4px;font-size:8.3px;text-align:right;color:#222;">mm<sup>2</sup></div>
<div class="t" style="left:15px;top:432.56px;width:80px;height:9px;line-height:9px;font-size:7.8px;text-align:left;color:#222;"><span class="c" style="width:32.00px">响应时间</span></div>
<div class="t" style="left:15px;top:442.15999999999997px;width:80px;height:9px;line-height:9px;font-size:8.2px;text-align:left;color:#222;letter-spacing:-0.3px;">ON<span class="c" style="width:7.70px">时</span>/OFF<span class="c" style="width:7.70px">时</span></div>
<div class="t" style="left:70px;top:435.65999999999997px;width:18.6px;height:12px;line-height:12px;font-size:8.3px;text-align:right;color:#222;">ms</div>
<div class="t" style="left:93.4px;top:429.36px;width:40px;height:12.4px;line-height:12.4px;font-size:8.4px;text-align:left;color:#222;">ON</div>
<div class="t" style="left:93.4px;top:442.2px;width:40px;height:12.4px;line-height:12.4px;font-size:8.4px;text-align:left;color:#222;">OFF</div>
<div class="t" style="left:147.5px;top:325.74px;width:239.0px;height:12.4px;line-height:12.4px;font-size:7.8px;text-align:center;color:#222;"><span class="c" style="width:16.00px">空气</span></div>
<div class="t" style="left:147.5px;top:338.78000000000003px;width:68.5px;height:12.4px;line-height:12.4px;font-size:7.8px;text-align:center;color:#222;"><span class="c" style="width:24.00px">直动型</span></div>
<div class="t" style="left:216px;top:338.78000000000003px;width:170.5px;height:12.4px;line-height:12.4px;font-size:7.8px;text-align:center;color:#222;"><span class="c" style="width:40.00px">内部先导式</span></div>
<div class="t" style="left:147.5px;top:351.02px;width:68.5px;height:12.4px;line-height:12.4px;font-size:8.3px;text-align:center;color:#222;">0.36</div>
<div class="t" style="left:216px;top:351.02px;width:68.80000000000001px;height:12.4px;line-height:12.4px;font-size:8.3px;text-align:center;color:#222;">3.0</div>
<div class="t" style="left:284.8px;top:351.02px;width:68.69999999999999px;height:12.4px;line-height:12.4px;font-size:8.3px;text-align:center;color:#222;">10</div>
<div class="t" style="left:353.5px;top:351.02px;width:33.0px;height:12.4px;line-height:12.4px;font-size:8.3px;text-align:center;color:#222;">20</div>
<div class="t" style="left:147.5px;top:364.06px;width:68.5px;height:12.4px;line-height:12.4px;font-size:8.3px;text-align:center;color:#222;letter-spacing:-0.5px;">1.8<span class="c" style="width:7.50px">〔</span>0.08<span class="c" style="width:7.50px">〕</span></div>
<div class="t" style="left:216px;top:364.06px;width:68.80000000000001px;height:12.4px;line-height:12.4px;font-size:8.3px;text-align:center;color:#222;letter-spacing:-0.5px;">15<span class="c" style="width:7.50px">〔</span>0.76<span class="c" style="width:7.50px">〕</span></div>
<div class="t" style="left:284.8px;top:364.06px;width:68.69999999999999px;height:12.4px;line-height:12.4px;font-size:8.3px;text-align:center;color:#222;letter-spacing:-0.5px;">50<span class="c" style="width:7.50px">〔</span>2.5<span class="c" style="width:7.50px">〕</span></div>
<div class="t" style="left:343.5px;top:363.46px;width:53.0px;height:12.4px;line-height:12.4px;font-size:8.3px;text-align:center;color:#111;transform:scaleX(0.74);transform-origin:50% 50%;letter-spacing:-0.5px;white-space:nowrap;-webkit-text-stroke:0.25px #111;">100<span class="c" style="width:7.50px">〔</span>5.0<span class="c" style="width:7.50px">〕</span></div>
<div class="t" style="left:147.5px;top:377.1px;width:34.099999999999994px;height:12.4px;line-height:12.4px;font-size:8.3px;text-align:center;color:#222;">1/8</div>
<div class="t" style="left:181.6px;top:377.1px;width:68.80000000000001px;height:12.4px;line-height:12.4px;font-size:8.3px;text-align:center;color:#222;">1/4</div>
<div class="t" style="left:250.4px;top:377.1px;width:68.99999999999997px;height:12.4px;line-height:12.4px;font-size:8.3px;text-align:center;color:#222;">3/8</div>
<div class="t" style="left:319.4px;top:377.1px;width:34.10000000000002px;height:12.4px;line-height:12.4px;font-size:8.3px;text-align:center;color:#222;">1/2</div>
<div class="t" style="left:353.5px;top:377.1px;width:33.0px;height:12.4px;line-height:12.4px;font-size:8.3px;text-align:center;color:#222;">3/4</div>
<div class="t" style="left:147.5px;top:390.94px;width:136.5px;height:12.4px;line-height:12.4px;font-size:7.8px;text-align:center;color:#222;"><span class="c" style="width:24.00px">不需要</span></div>
<div class="t" style="left:254px;top:389.53999999999996px;width:162.5px;height:12.4px;line-height:12.4px;font-size:8px;text-align:center;color:#111;transform:scaleX(0.69);transform-origin:50% 50%;letter-spacing:-0.4px;white-space:nowrap;-webkit-text-stroke:0.2px #111;"><span class="c" style="width:22.81px">需要（</span>1<span class="c" style="width:30.41px">种透平油</span> (ISO VG32) <span class="c" style="width:38.02px">的同等品）</span></div>
<div class="t" style="left:147.5px;top:403.18px;width:68.5px;height:12.4px;line-height:12.4px;font-size:8.3px;text-align:center;color:#222;">0 ~ 0.7</div>
<div class="t" style="left:216px;top:403.18px;width:170.5px;height:12.4px;line-height:12.4px;font-size:8.3px;text-align:center;color:#222;">0.1 ~ 0.9</div>
<div class="t" style="left:147.5px;top:416.22px;width:68.5px;height:12.4px;line-height:12.4px;font-size:8.3px;text-align:center;color:#222;">1.05</div>
<div class="t" style="left:216px;top:416.22px;width:170.5px;height:12.4px;line-height:12.4px;font-size:8.3px;text-align:center;color:#222;">1.35</div>
<div class="t" style="left:147.5px;top:429.26px;width:68.5px;height:12.4px;line-height:12.4px;font-size:8.3px;text-align:center;color:#222;">50</div>
<div class="t" style="left:216px;top:429.26px;width:137.5px;height:12.4px;line-height:12.4px;font-size:8.3px;text-align:center;color:#222;">70</div>
<div class="t" style="left:353.5px;top:429.26px;width:33.0px;height:12.4px;line-height:12.4px;font-size:8.3px;text-align:center;color:#222;">140</div>
<div class="t" style="left:147.5px;top:442.3px;width:68.5px;height:12.4px;line-height:12.4px;font-size:8.3px;text-align:center;color:#222;">50</div>
<div class="t" style="left:216px;top:442.3px;width:137.5px;height:12.4px;line-height:12.4px;font-size:8.3px;text-align:center;color:#222;">70</div>
<div class="t" style="left:353.5px;top:442.3px;width:33.0px;height:12.4px;line-height:12.4px;font-size:8.3px;text-align:center;color:#222;">140</div>
<div class="t" style="left:147.5px;top:455.34px;width:239.0px;height:12.4px;line-height:12.4px;font-size:8.3px;text-align:center;color:#222;">5</div>
<div class="t b" style="left:147.5px;top:468.38px;width:239.0px;height:12.4px;line-height:12.4px;font-size:10.5px;text-align:center;color:#222;font-weight:bold;">–</div>
<div class="t" style="left:147.5px;top:481.42px;width:239.0px;height:12.4px;line-height:12.4px;font-size:8.3px;text-align:center;color:#222;">0 ~ 60</div>
<div class="t" style="left:147.5px;top:495.26px;width:239.0px;height:12.4px;line-height:12.4px;font-size:7.8px;text-align:center;color:#222;"><span class="c" style="width:16.00px">自由</span></div>
<div class="t" style="left:147.5px;top:507.5px;width:68.5px;height:12.4px;line-height:12.4px;font-size:8.3px;text-align:center;color:#222;">0.9</div>
<div class="t" style="left:216px;top:507.5px;width:68.80000000000001px;height:12.4px;line-height:12.4px;font-size:8.3px;text-align:center;color:#222;">1.5</div>
<div class="t" style="left:284.8px;top:507.5px;width:34.599999999999966px;height:12.4px;line-height:12.4px;font-size:8.3px;text-align:center;color:#222;">1.8</div>
<div class="t" style="left:319.4px;top:507.5px;width:34.10000000000002px;height:12.4px;line-height:12.4px;font-size:8.3px;text-align:center;color:#222;">1.7</div>
<div class="t" style="left:353.5px;top:507.5px;width:33.0px;height:12.4px;line-height:12.4px;font-size:8.3px;text-align:center;color:#222;">4.1</div>
<div class="t" style="left:13.5px;top:521.5px;width:300px;height:12px;line-height:12px;font-size:7.8px;text-align:left;color:#222;letter-spacing:0.55px;white-space:nowrap;"><span class="c" style="width:8.56px">注</span><span style="margin-right:-2.3px"><span class="c" style="width:8.56px">：</span></span><span class="c" style="width:76.95px">音速传导值为计算值</span><span style="margin-right:-3px"><span class="c" style="width:8.56px">，</span></span><span class="c" style="width:42.75px">并非实测值</span><span style="margin-left:-2px"><span class="c" style="width:8.56px">。</span></span></div>
<div class="t b" style="left:417.6px;top:9.5px;width:250px;height:14px;line-height:14px;font-size:11.4px;text-align:left;color:#1a1a1a;font-weight:bold;letter-spacing:1.3px;"><span class="c" style="width:49.20px">内部结构</span></div>
<div class="t b" style="left:417.6px;top:428.9px;width:250px;height:14px;line-height:14px;font-size:11.4px;text-align:left;color:#1a1a1a;font-weight:bold;letter-spacing:1.3px;"><span class="c" style="width:73.81px">主要部件材料</span></div>
<div class="t" style="left:417px;top:459.3px;width:93.39999999999998px;height:12.4px;line-height:12.4px;font-size:8px;text-align:center;color:#222;letter-spacing:0.3px;"><span class="c" style="width:16.61px">名称</span></div>
<div class="t" style="left:417px;top:472.6px;width:93.39999999999998px;height:12.4px;line-height:12.4px;font-size:8px;text-align:center;color:#222;letter-spacing:0.3px;"><span class="c" style="width:16.61px">本体</span></div>
<div class="t" style="left:417px;top:485.8px;width:93.39999999999998px;height:12.4px;line-height:12.4px;font-size:8px;text-align:center;color:#222;letter-spacing:0.3px;"><span class="c" style="width:16.61px">主轴</span></div>
<div class="t" style="left:417px;top:498.8px;width:93.39999999999998px;height:12.4px;line-height:12.4px;font-size:8px;text-align:center;color:#222;"><span class="c" style="width:40.00px">主阀提升阀</span></div>
<div class="t" style="left:417px;top:511.90000000000003px;width:93.39999999999998px;height:12.4px;line-height:12.4px;font-size:8px;text-align:center;color:#222;letter-spacing:0.3px;"><span class="c" style="width:16.61px">密封</span></div>
<div class="t" style="left:510.4px;top:459.3px;width:93.60000000000002px;height:12.4px;line-height:12.4px;font-size:8px;text-align:center;color:#222;letter-spacing:0.3px;"><span class="c" style="width:16.61px">材料</span></div>
<div class="t" style="left:510.4px;top:472.6px;width:93.60000000000002px;height:12.4px;line-height:12.4px;font-size:8px;text-align:center;color:#222;"><span class="c" style="width:64.00px">铝合金（阳极化）</span></div>
<div class="t" style="left:510.4px;top:485.8px;width:93.60000000000002px;height:12.4px;line-height:12.4px;font-size:8px;text-align:center;color:#222;letter-spacing:0.3px;"><span class="c" style="width:16.61px">黄铜</span></div>
<div class="t" style="left:510.4px;top:504.9px;width:93.60000000000002px;height:12.4px;line-height:12.4px;font-size:8px;text-align:center;color:#222;"><span class="c" style="width:32.00px">合成橡胶</span></div>
<div class="t" style="left:425.6px;top:69.1px;width:40px;height:10px;line-height:10px;font-size:7.2px;text-align:left;color:#222;letter-spacing:0.3px;"><span class="c" style="width:29.20px">连接端子</span></div>
<div class="t" style="left:409px;top:82.9px;width:40px;height:10px;line-height:10px;font-size:7.2px;text-align:left;color:#222;letter-spacing:0.3px;"><span class="c" style="width:29.20px">电磁线圈</span></div>
<div class="t" style="left:424px;top:94.9px;width:40px;height:10px;line-height:10px;font-size:7.2px;text-align:left;color:#222;letter-spacing:0.3px;"><span class="c" style="width:14.61px">衔铁</span></div>
<div class="t" style="left:409px;top:107.9px;width:40px;height:10px;line-height:10px;font-size:7.2px;text-align:left;color:#222;letter-spacing:0.3px;"><span class="c" style="width:29.20px">衔铁弹簧</span></div>
<div class="t" style="left:409px;top:122.3px;width:40px;height:10px;line-height:10px;font-size:7.2px;text-align:left;color:#222;letter-spacing:0.3px;"><span class="c" style="width:29.20px">手动按钮</span></div>
<div class="t" style="left:401.4px;top:134.9px;width:40px;height:10px;line-height:10px;font-size:7.2px;text-align:left;color:#222;letter-spacing:0.3px;"><span class="c" style="width:36.50px">活塞及主轴</span></div>
<div class="t" style="left:409.4px;top:160.5px;width:40px;height:10px;line-height:10px;font-size:7.2px;text-align:left;color:#222;letter-spacing:0.3px;"><span class="c" style="width:36.50px">主阀提升阀</span></div>
<div class="t" style="left:428.9px;top:173.9px;width:40px;height:10px;line-height:10px;font-size:7.2px;text-align:left;color:#222;letter-spacing:0.3px;"><span class="c" style="width:21.91px">阀本体</span></div>
<div class="t lt" style="left:495.8px;top:56.5px;width:60px;height:13px;line-height:13px;font-size:10px;text-align:left;color:#222;letter-spacing:0.1px;"><span class="c" style="width:40.41px">非通电时</span></div>
<div class="t lt" style="left:495.9px;top:238.6px;width:60px;height:13px;line-height:13px;font-size:10px;text-align:left;color:#222;letter-spacing:0.1px;"><span class="c" style="width:30.31px">通电时</span></div>
<div class="t" style="left:528px;top:73.2px;width:10px;height:8px;line-height:8px;font-size:8px;text-align:left;color:#222;-webkit-text-stroke:0;color:#2a2a2a;">R</div>
<div class="t" style="left:489.6px;top:185px;width:20px;height:9px;line-height:9px;font-size:7.9px;text-align:left;color:#222;-webkit-text-stroke:0;letter-spacing:0.35px;color:#2a2a2a;">2(B)</div>
<div class="t" style="left:526.4px;top:185px;width:20px;height:9px;line-height:9px;font-size:7.9px;text-align:left;color:#222;-webkit-text-stroke:0;letter-spacing:0.35px;color:#2a2a2a;">4(A)</div>
<div class="t" style="left:557.2px;top:165px;width:20px;height:9px;line-height:9px;font-size:7.9px;text-align:left;color:#222;-webkit-text-stroke:0;letter-spacing:0.35px;color:#2a2a2a;">3(R)</div>
<div class="t" style="left:452px;top:192px;width:20px;height:9px;line-height:9px;font-size:7.9px;text-align:left;color:#222;-webkit-text-stroke:0;letter-spacing:0.35px;color:#2a2a2a;">1(P)</div>
<div class="t" style="left:527.3px;top:256.2px;width:10px;height:8px;line-height:8px;font-size:8px;text-align:left;color:#222;-webkit-text-stroke:0;color:#2a2a2a;">R</div>
<div class="t" style="left:488.90000000000003px;top:368px;width:20px;height:9px;line-height:9px;font-size:7.9px;text-align:left;color:#222;-webkit-text-stroke:0;letter-spacing:0.35px;color:#2a2a2a;">2(B)</div>
<div class="t" style="left:525.6999999999999px;top:368px;width:20px;height:9px;line-height:9px;font-size:7.9px;text-align:left;color:#222;-webkit-text-stroke:0;letter-spacing:0.35px;color:#2a2a2a;">4(A)</div>
<div class="t" style="left:556.5px;top:348px;width:20px;height:9px;line-height:9px;font-size:7.9px;text-align:left;color:#222;-webkit-text-stroke:0;letter-spacing:0.35px;color:#2a2a2a;">3(R)</div>
<div class="t" style="left:453.90000000000003px;top:375px;width:20px;height:9px;line-height:9px;font-size:7.9px;text-align:left;color:#222;-webkit-text-stroke:0;letter-spacing:0.35px;color:#2a2a2a;">1(P)</div>
</div>
</body>
</html>
